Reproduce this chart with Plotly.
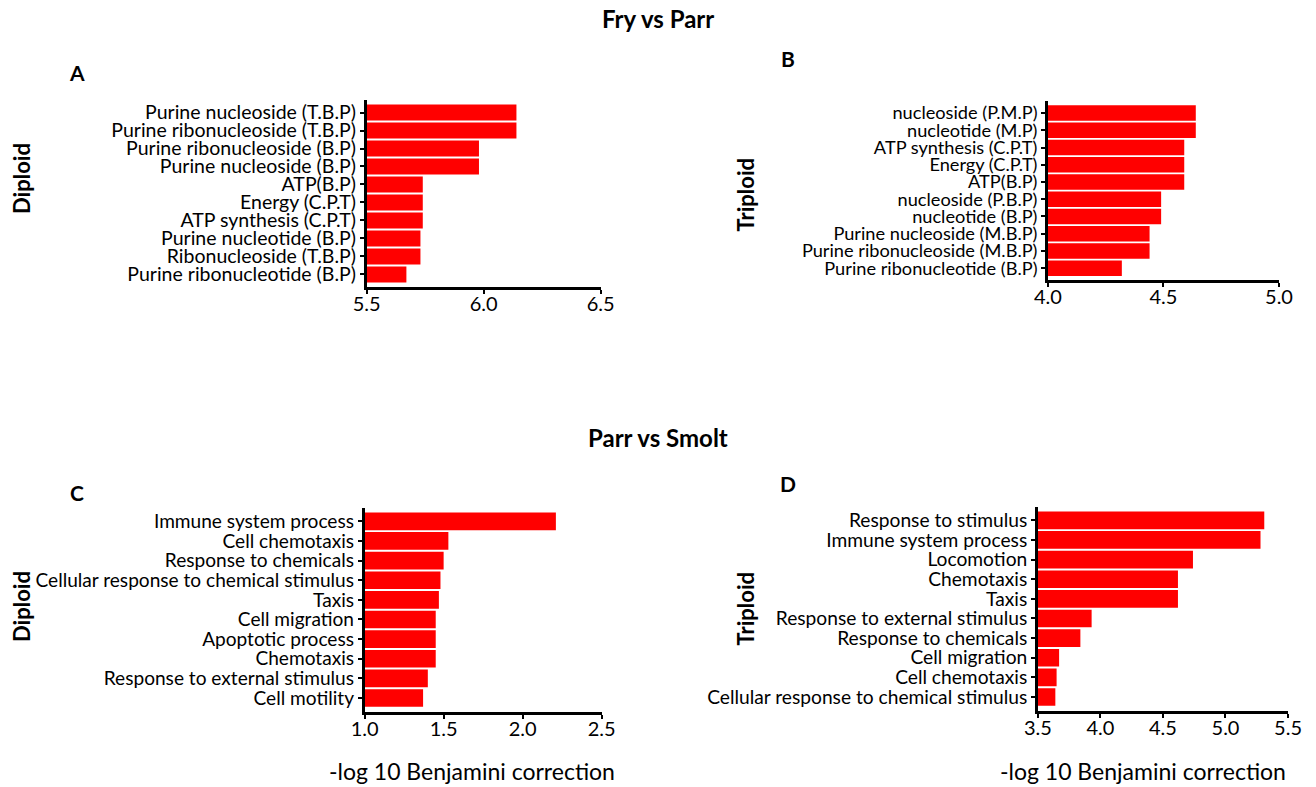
import plotly.graph_objects as go

W, H = 1316, 787

# ---------------- data ----------------
a_terms = ["Purine nucleoside (T.B.P)", "Purine ribonucleoside (T.B.P)", "Purine ribonucleoside (B.P)",
           "Purine nucleoside (B.P)", "ATP(B.P)", "Energy (C.P.T)", "ATP synthesis (C.P.T)",
           "Purine nucleotide (B.P)", "Ribonucleoside (T.B.P)", "Purine ribonucleotide (B.P)"]
a_values = [6.14, 6.14, 5.98, 5.98, 5.74, 5.74, 5.74, 5.73, 5.73, 5.67]

b_terms = ["nucleoside (P.M.P)", "nucleotide (M.P)", "ATP synthesis (C.P.T)", "Energy (C.P.T)",
           "ATP(B.P)", "nucleoside (P.B.P)", "nucleotide (B.P)", "Purine nucleoside (M.B.P)",
           "Purine ribonucleoside (M.B.P)", "Purine ribonucleotide (B.P)"]
b_values = [4.64, 4.64, 4.59, 4.59, 4.59, 4.49, 4.49, 4.44, 4.44, 4.32]

c_terms = ["Immune system process", "Cell chemotaxis", "Response to chemicals",
           "Cellular response to chemical stimulus", "Taxis", "Cell migration", "Apoptotic process",
           "Chemotaxis", "Response to external stimulus", "Cell motility"]
c_values = [2.21, 1.53, 1.50, 1.48, 1.47, 1.45, 1.45, 1.45, 1.40, 1.37]

d_terms = ["Response to stimulus", "Immune system process", "Locomotion", "Chemotaxis", "Taxis",
           "Response to external stimulus", "Response to chemicals", "Cell migration",
           "Cell chemotaxis", "Cellular response to chemical stimulus"]
d_values = [5.31, 5.28, 4.74, 4.62, 4.62, 3.93, 3.84, 3.67, 3.65, 3.64]

a_ticks = [5.5, 6.0, 6.5]
b_ticks = [4.0, 4.5, 5.0]
c_ticks = [1.0, 1.5, 2.0, 2.5]
d_ticks = [3.5, 4.0, 4.5, 5.0, 5.5]

# ---------------- layout helpers ----------------
FONT = "Lato"
TICK_SIZE = 20
XSCALE = 0.974  # horizontal calibration of the rendered page

def px(x):
    return (W / 2 + (x - W / 2) / XSCALE) / W

def py(y):
    return 1 - y / H

panels = [
    # terms, values, ticks, x0px, x1px, ytop, ybottom, label size
    (a_terms, a_values, a_ticks, 368, 601, 100, 287, 19.5),
    (b_terms, b_values, b_ticks, 1046, 1276, 101, 280, 18.2),
    (c_terms, c_values, c_ticks, 366, 602, 508, 712, 19.1),
    (d_terms, d_values, d_ticks, 1036, 1285, 507, 711, 19.2),
]

fig = go.Figure()
layout = dict(
    width=W, height=H,
    margin=dict(l=0, r=0, t=0, b=0),
    paper_bgcolor="white", plot_bgcolor="white",
    showlegend=False,
    font=dict(family=FONT, color="black", size=19),
    bargap=0.1,
)

for i, (terms, vals, ticks, x0, x1, yt, yb, lsize) in enumerate(panels):
    n = i + 1
    xa = "x" if n == 1 else f"x{n}"
    ya = "y" if n == 1 else f"y{n}"
    fig.add_trace(go.Bar(
        x=[v - ticks[0] for v in vals], y=terms, orientation="h",
        base=ticks[0], xaxis=xa, yaxis=ya,
        marker=dict(color="#FF0000", line=dict(width=0)),
        customdata=vals, hovertemplate="%{y}: %{customdata}<extra></extra>",
    ))
    nterms = len(terms)
    slot = (yb - yt) / (nterms + 0.39)
    top_pad = 3.5 / slot
    layout[f"xaxis{'' if n == 1 else n}"] = dict(
        domain=[px(x0), px(x1)], anchor=ya,
        range=[ticks[0], ticks[-1]],
        tickmode="array",
        tickvals=ticks, ticktext=[f"{t:.1f}" for t in ticks],
        showline=True, linecolor="black", linewidth=3,
        ticks="outside", ticklen=4, tickwidth=2, tickcolor="black",
        ticklabelstandoff=-7,
        showgrid=False, zeroline=False,
        tickfont=dict(size=TICK_SIZE, family=FONT),
    )
    layout[f"yaxis{'' if n == 1 else n}"] = dict(
        domain=[py(yb), py(yt)], anchor=xa,
        type="category",
        categoryorder="array", categoryarray=terms,
        tickmode="array", tickvals=terms, ticktext=terms,
        range=[nterms - 0.5 + (yb - yt - nterms * slot - 3.5) / slot, -0.5 - top_pad],
        showline=True, linecolor="black", linewidth=2.5,
        ticks="outside", ticklen=4, tickwidth=2, tickcolor="black",
        showgrid=False, zeroline=False,
        tickfont=dict(size=lsize, family=FONT),
    )

fig.update_layout(**layout)

annotations = [
    ("<b>Fry vs Parr</b>", 658, 18, 24, 0),
    ("<b>Parr vs Smolt</b>", 658, 437, 24, 0),
    ("<b>A</b>", 80, 72, 21, 0),
    ("<b>B</b>", 787, 58, 21, 0),
    ("<b>C</b>", 80, 492, 21, 0),
    ("<b>D</b>", 787, 484, 21, 0),
    ("<b>Diploid</b>", 24, 178, 22, -90),
    ("<b>Triploid</b>", 745, 195, 22, -90),
    ("<b>Diploid</b>", 24, 606, 22, -90),
    ("<b>Triploid</b>", 745, 609, 22, -90),
    ("-log 10 Benjamini correction", 473, 771, 23, 0),
    ("-log 10 Benjamini correction", 1141, 771, 23, 0),
]
for text, x, y, size, ang in annotations:
    fig.add_annotation(
        text=text, x=px(x), y=py(y), xref="paper", yref="paper",
        xanchor="center", yanchor="middle", showarrow=False,
        textangle=ang, font=dict(size=size, family=FONT, color="black"),
    )

fig.write_html(
    "out.html",
    config={"displayModeBar": False},
    post_script="document.body.style.margin='0';document.body.style.overflow='hidden';",
)
